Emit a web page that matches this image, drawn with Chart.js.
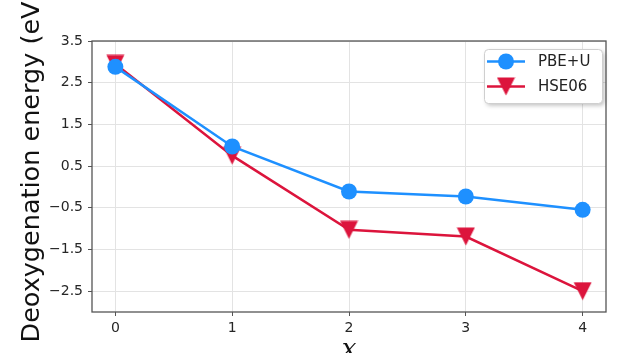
<!DOCTYPE html>
<html>
<head>
<meta charset="utf-8">
<title>Deoxygenation energy</title>
<script src="https://cdn.jsdelivr.net/npm/chart.js@4/dist/chart.umd.min.js"></script>
<style>
    html, body { margin: 0; padding: 0; background: #fff; }
    #chart-box { width: 630px; height: 362px; }
</style>
</head>
<body>
<div id="chart-box"><canvas id="EnergyChart" width="630" height="362"></canvas></div>
<script>
// values
const xValues = [0, 1, 2, 3, 4];
const pbeU = [2.88, 0.97, -0.11, -0.23, -0.55];
const hse06 = [2.95, 0.75, -1.03, -1.19, -2.5];
const seriesNames = ['PBE+U', 'HSE06'];
const xTicks = [0, 1, 2, 3, 4];
const yTicks = [-2.5, -1.5, -0.5, 0.5, 1.5, 2.5, 3.5];
const xTitle = 'x';
const yTitle = 'Deoxygenation energy (eV)';

const BLUE = '#1E90FF';
const RED = '#DC143C';
const FONT = '"DejaVu Sans", Verdana, sans-serif';

document.addEventListener('DOMContentLoaded', function() {
    drawChart();
});

// matplotlib style 'v' marker
function makeDownTriangle(color) {
    const c = document.createElement('canvas');
    c.width = 19;
    c.height = 19;
    const g = c.getContext('2d');
    g.fillStyle = color;
    g.beginPath();
    g.moveTo(0.5, 0.5);
    g.lineTo(18.5, 0.5);
    g.lineTo(9.5, 18.5);
    g.closePath();
    g.fill();
    return c;
}

function fmtTick(v) {
    const s = Math.abs(v).toFixed(1);
    return v < 0 ? '\u2212' + s : s;
}

// frame round the plot area, like matplotlib spines
const framePlugin = {
    id: 'frame',
    afterDatasetsDraw(chart) {
        const a = chart.chartArea;
        const ctx = chart.ctx;
        ctx.save();
        ctx.strokeStyle = '#555';
        ctx.lineWidth = 1.3;
        ctx.strokeRect(a.left, a.top, a.right - a.left, a.bottom - a.top);
        ctx.restore();
    }
};

// axis titles, placed where the reference has them (x label is cut off at the bottom)
const titlesPlugin = {
    id: 'axisTitles',
    afterDraw(chart) {
        const ctx = chart.ctx;
        const a = chart.chartArea;
        ctx.save();
        ctx.fillStyle = '#111';
        ctx.font = '25.5px ' + FONT;
        ctx.textAlign = 'center';
        ctx.textBaseline = 'alphabetic';
        ctx.translate(39, 167);
        ctx.rotate(-Math.PI / 2);
        ctx.fillText(yTitle, 0, 0);
        ctx.restore();

        ctx.save();
        ctx.beginPath();
        ctx.rect(0, 0, chart.width, 353);
        ctx.clip();
        ctx.fillStyle = '#111';
        ctx.font = 'italic 26px "DejaVu Serif", serif';
        ctx.textAlign = 'center';
        ctx.textBaseline = 'alphabetic';
        ctx.fillText(xTitle, (a.left + a.right) / 2, 356.5);
        ctx.restore();
    }
};

// legend with line + marker sample
const legendPlugin = {
    id: 'mplLegend',
    afterDraw(chart) {
        const ctx = chart.ctx;
        const box = { x: 484.5, y: 49.5, w: 118, h: 54 };
        ctx.save();
        ctx.shadowColor = 'rgba(0,0,0,0.25)';
        ctx.shadowBlur = 4;
        ctx.shadowOffsetX = 2;
        ctx.shadowOffsetY = 2;
        ctx.fillStyle = '#fff';
        ctx.beginPath();
        ctx.roundRect(box.x, box.y, box.w, box.h, 4);
        ctx.fill();
        ctx.shadowColor = 'transparent';
        ctx.strokeStyle = '#cfcfcf';
        ctx.lineWidth = 1;
        ctx.stroke();

        chart.data.datasets.forEach(function(ds, i) {
            const y = 61.5 + i * 25;
            ctx.strokeStyle = ds.borderColor;
            ctx.lineWidth = 2.5;
            ctx.beginPath();
            ctx.moveTo(487, y);
            ctx.lineTo(525, y);
            ctx.stroke();
            if (ds.pointStyle === 'circle') {
                ctx.fillStyle = ds.borderColor;
                ctx.beginPath();
                ctx.arc(506, y, ds.pointRadius, 0, Math.PI * 2);
                ctx.fill();
            } else {
                const img = ds.pointStyle;
                ctx.drawImage(img, 506 - img.width / 2, y - img.height / 2);
            }
            ctx.fillStyle = '#222';
            ctx.font = '15px ' + FONT;
            ctx.textBaseline = 'middle';
            ctx.fillText(ds.label, 538, y + 1);
        });
        ctx.restore();
    }
};

function drawChart() {
    const ctx = document.getElementById('EnergyChart').getContext('2d');
    const redTri = makeDownTriangle(RED);

    new Chart(ctx, {
        type: 'line',
        data: {
            datasets: [
                {
                    label: seriesNames[0],
                    data: xValues.map((x, i) => ({ x: x, y: pbeU[i] })),
                    borderColor: BLUE,
                    backgroundColor: BLUE,
                    borderWidth: 2.5,
                    pointStyle: 'circle',
                    pointRadius: 8,
                    pointBorderWidth: 0,
                    pointBackgroundColor: BLUE,
                    tension: 0,
                    fill: false
                },
                {
                    label: seriesNames[1],
                    data: xValues.map((x, i) => ({ x: x, y: hse06[i] })),
                    borderColor: RED,
                    backgroundColor: RED,
                    borderWidth: 2.5,
                    pointStyle: redTri,
                    pointRadius: 9,
                    tension: 0,
                    fill: false
                }
            ]
        },
        options: {
            responsive: false,
            animation: false,
            layout: {
                padding: { top: 41, right: 24, left: 0, bottom: 0 }
            },
            plugins: {
                legend: { display: false },
                tooltip: { enabled: false }
            },
            scales: {
                x: {
                    type: 'linear',
                    position: 'bottom',
                    min: -0.2,
                    max: 4.2,
                    afterBuildTicks: function(scale) {
                        scale.ticks = xTicks.map(v => ({ value: v }));
                    },
                    afterFit: function(scale) {
                        scale.height = 50;
                    },
                    border: { display: false },
                    grid: {
                        color: '#e3e3e3',
                        lineWidth: 1,
                        tickColor: '#555',
                        tickLength: 4
                    },
                    ticks: {
                        color: '#262626',
                        padding: 4,
                        maxRotation: 0,
                        font: { size: 14, family: FONT },
                        callback: v => String(v)
                    }
                },
                y: {
                    min: -3.0,
                    max: 3.5,
                    afterBuildTicks: function(scale) {
                        scale.ticks = yTicks.map(v => ({ value: v }));
                    },
                    afterFit: function(scale) {
                        scale.width = 92;
                    },
                    border: { display: false },
                    grid: {
                        color: '#e3e3e3',
                        lineWidth: 1,
                        tickColor: '#555',
                        tickLength: 4
                    },
                    ticks: {
                        color: '#262626',
                        padding: 5,
                        font: { size: 14, family: FONT },
                        callback: v => fmtTick(v)
                    }
                }
            }
        },
        plugins: [framePlugin, titlesPlugin, legendPlugin]
    });
}
</script>
</body>
</html>
